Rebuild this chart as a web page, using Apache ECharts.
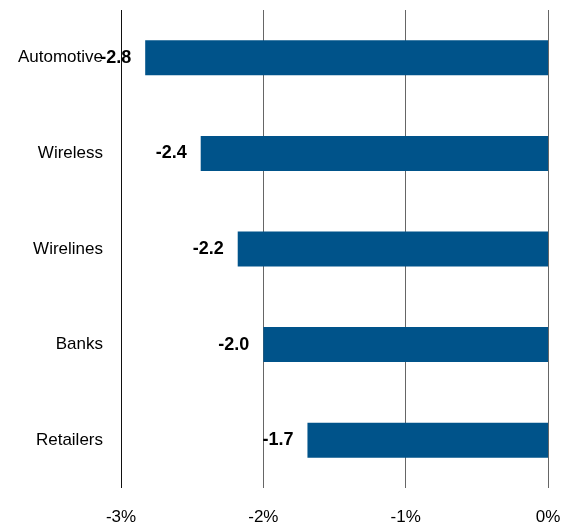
<!DOCTYPE html>
<html><head><meta charset="utf-8">
<script src="https://cdn.jsdelivr.net/npm/echarts@6/dist/echarts.min.js"></script>
<style>html,body{margin:0;padding:0;background:#fff}#c{width:581px;height:524px}</style>
</head><body><div id="c"></div>
<script>
var categories = ['Automotive', 'Wireless', 'Wirelines', 'Banks', 'Retailers'];
var values = [-2.83, -2.44, -2.18, -2.0, -1.69];
var xTicks = [-3, -2, -1, 0];
var FONT = '"Liberation Sans Narrow", "Liberation Sans", Arial, sans-serif';
var chart = echarts.init(document.getElementById('c'));
chart.setOption({
  animation: false,
  grid: { left: 121, right: 33, top: 10, bottom: 36, containLabel: false, outerBoundsMode: 'none' },
  xAxis: {
    type: 'value', min: xTicks[0], max: xTicks[xTicks.length - 1], interval: 1,
    axisLine: { show: false }, axisTick: { show: false },
    splitLine: { show: true, lineStyle: { color: ['#111', '#666', '#666', '#666'], width: 1 } },
    axisLabel: { color: '#000', fontSize: 17, fontFamily: FONT, margin: 21,
      formatter: function (v) { return v + '%'; } }
  },
  yAxis: {
    type: 'category', data: categories, inverse: true,
    axisLine: { show: false }, axisTick: { show: false },
    axisLabel: { color: '#000', fontSize: 17, fontFamily: FONT, margin: 18 }
  },
  series: [{
    type: 'bar', data: values, barWidth: 35,
    itemStyle: { color: '#00538A' },
    label: { show: true, position: 'left', distance: 14, color: '#000',
      fontSize: 18, fontWeight: 'bold', fontFamily: FONT,
      formatter: function (p) { return p.value.toFixed(1); } }
  }]
});
</script></body></html>
